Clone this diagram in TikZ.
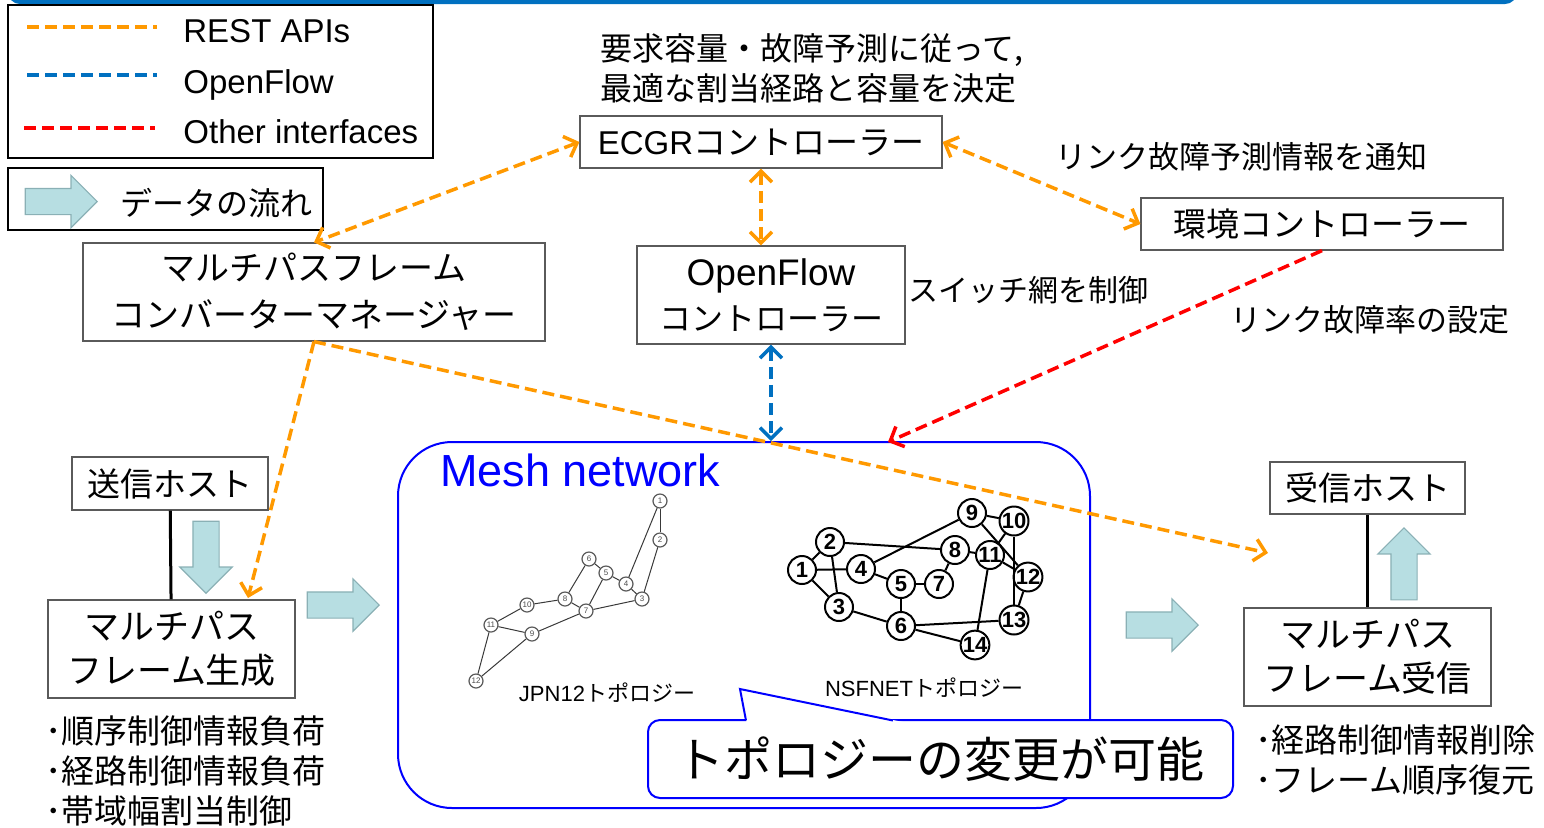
\documentclass[tikz,border=0pt]{standalone}
\usepackage{fontspec}
\setmainfont{Liberation Sans}
\newfontfamily\jp{Noto Sans CJK JP}
\usepackage{tikz}
\usetikzlibrary{arrows.meta}
\usetikzlibrary{shapes.arrows}
\definecolor{restorange}{RGB}{255,153,0}
\definecolor{ofblue}{RGB}{0,112,192}
\definecolor{otherred}{RGB}{255,0,0}
\definecolor{meshblue}{RGB}{0,0,255}
\definecolor{flowfill}{RGB}{183,222,226}
\definecolor{flowline}{RGB}{138,176,181}
\definecolor{boxgray}{RGB}{90,90,90}
\tikzset{box/.style={draw=boxgray, line width=0.6pt, align=center, inner sep=0pt}}
\tikzset{jb/.style={font=\jp\fontsize{17}{23.5}\selectfont}}
\tikzset{jg/.style={font=\jp\fontsize{17.5}{22}\selectfont}}
\tikzset{jh/.style={font=\jp\fontsize{16.5}{20}\selectfont}}
\tikzset{jm/.style={font=\jp\fontsize{15.5}{20}\selectfont}}
\tikzset{lt/.style={font=\fontsize{16.5}{20}\selectfont}}
\tikzset{rest/.style={draw=restorange, line width=1.75pt, dash pattern=on 6pt off 3pt}}
\tikzset{ofl/.style={draw=ofblue, line width=1.75pt, dash pattern=on 6pt off 3pt}}
\tikzset{oth/.style={draw=otherred, line width=1.75pt, dash pattern=on 6pt off 3pt}}
\tikzset{flow/.style={shape=single arrow, fill=flowfill, draw=flowline, line width=0.6pt, inner sep=6.25pt, single arrow head extend=6.5pt, minimum height=36pt}}
\tikzset{jn/.style={circle, draw=gray!70!black, line width=0.6pt, fill=white, inner sep=0pt, minimum size=7pt, text=gray!60!black, font=\fontsize{4}{4}\selectfont}}
\tikzset{nn/.style={circle, draw, line width=1pt, fill=white, inner sep=0pt, minimum size=14pt, font=\bfseries\fontsize{11}{11}\selectfont}}

\begin{document}
\begin{tikzpicture}[x=0.5pt, y=-0.5pt, >={Straight Barb[length=5.5pt,width=11pt]}]
  \useasboundingbox (0,0) rectangle (1544,827);
  \clip (0,0) rectangle (1544,827);
  \fill[ofblue, rounded corners=6pt] (8,-30) rectangle (1517,4);

  \node[draw, line width=1pt, minimum width=212.5pt, minimum height=76.5pt] (key) at (220.5,81.5) {};
  \draw[rest] (27,27) -- (157,27);
  \draw[ofl] (27,75) -- (157,75);
  \draw[oth] (24,128) -- (155,128);
  \node[lt, anchor=base west, inner sep=0pt] (krest) at (183,42) {REST APIs};
  \node[lt, anchor=base west, inner sep=0pt] (kof) at (183,93) {OpenFlow};
  \node[lt, anchor=base west, inner sep=0pt] (koth) at (183,143) {Other interfaces};
  \node[draw, line width=1pt, minimum width=157.5pt, minimum height=31pt] (flowkey) at (165.5,199) {};
  \node[flow, anchor=tip] (kflow) at (98,201.5) {};
  \node[font=\jp\fontsize{16}{20}\selectfont] (kflowtxt) at (216,203) {データの流れ};

  \node[box, lt, minimum width=181pt, minimum height=26pt] (ecgr) at (761,142) {ECGR{\jp コントローラー}};
  \node[font=\jp\fontsize{16}{20}\selectfont, anchor=west, align=left, inner sep=0pt] (ecgrnote) at (600,68)
    {要求容量・故障予測に従って,\\最適な割当経路と容量を決定};
  \node[box, minimum width=134pt, minimum height=49pt, font=\fontsize{18.5}{22.5}\selectfont] (ofc) at (771,295)
    {OpenFlow\\{\jp\fontsize{16}{22.5}\selectfont コントローラー}};
  \node[font=\jp\fontsize{15}{20}\selectfont, anchor=west, inner sep=0pt] (ofcnote) at (908,290) {スイッチ網を制御};
  \node[box, jh, minimum width=181pt, minimum height=26pt] (env) at (1322,224) {環境コントローラー};
  \node[jm, anchor=west, inner sep=0pt] (envnote) at (1055,157) {リンク故障予測情報を通知};
  \node[jm, anchor=west, inner sep=0pt] (ratenote) at (1230,320) {リンク故障率の設定};
  \node[box, jb, minimum width=231pt, minimum height=49pt] (mgr) at (314,292) {マルチパスフレーム\\コンバーターマネージャー};

  \node[box, jh, minimum width=98pt, minimum height=26.5pt] (snd) at (170,483.5) {送信ホスト};
  \node[box, jg, minimum width=123.5pt, minimum height=49pt] (gen) at (171.5,649) {マルチパス\\フレーム生成};
  \draw[line width=1.5pt] (snd) -- (gen);
  \node[jh, anchor=west, align=left, inner sep=0pt] (genlist) at (45,771) {･順序制御情報負荷\\･経路制御情報負荷\\･帯域幅割当制御};
  \node[flow, anchor=tip, shape border rotate=270] (sndflow) at (206,594) {};
  \node[flow, anchor=tip] (genflow) at (380,605) {};

  \node[box, jh, minimum width=97.5pt, minimum height=26pt] (rcv) at (1367.5,488) {受信ホスト};
  \node[box, jg, minimum width=123.5pt, minimum height=49pt] (mrx) at (1367.5,657) {マルチパス\\フレーム受信};
  \draw[line width=1.5pt] (rcv) -- (mrx);
  \node[jh, anchor=west, align=left, inner sep=0pt] (mrxlist) at (1255,760) {･経路制御情報削除\\･フレーム順序復元};
  \node[flow, anchor=tip, shape border rotate=90] (mrxflow) at (1404,527) {};
  \node[flow, anchor=tip] (meshflow) at (1199,625) {};

  \node[draw=meshblue, line width=1pt, rounded corners=27pt, minimum width=346pt, minimum height=183pt] (mesh) at (744,625) {};
  \node[font=\fontsize{22.5}{26}\selectfont, text=meshblue, anchor=base west, inner sep=0pt] (meshtitle) at (440,486) {Mesh network};

  \begin{scope}[every edge/.style={draw, gray!45!black, line width=0.5pt}]
    \node[jn] (j1) at (660,501) {1};
    \node[jn] (j2) at (660,540) {2} edge (j1);
    \node[jn] (j3) at (642,599) {3} edge (j2);
    \node[jn] (j4) at (626,584) {4} edge (j1) edge (j3);
    \node[jn] (j5) at (606,573) {5} edge (j4);
    \node[jn] (j6) at (589,559) {6} edge (j5);
    \node[jn] (j7) at (586,611) {7} edge (j5) edge (j3);
    \node[jn] (j8) at (565,599) {8} edge (j6) edge (j7);
    \node[jn] (j10) at (527,605) {10} edge (j8);
    \node[jn] (j9) at (532,634) {9} edge (j7);
    \node[jn] (j11) at (491,625) {11} edge (j10) edge (j9);
    \node[jn] (j12) at (476,681) {12} edge (j11) edge (j9);
  \end{scope}
  \node[font=\fontsize{11}{12}\selectfont] (jpnlabel) at (607,693) {JPN12{\jp トポロジー}};

  \begin{scope}[every edge/.style={draw, line width=1pt}]
    \node[nn] (n1) at (802,570) {1};
    \node[nn] (n2) at (830,542) {2} edge (n1);
    \node[nn] (n3) at (839,607) {3} edge (n1) edge (n2);
    \node[nn] (n4) at (861,569) {4} edge (n1);
    \node[nn] (n5) at (901,584) {5} edge (n4);
    \node[nn] (n6) at (901,626) {6} edge (n5) edge (n3);
    \node[nn] (n7) at (939,584) {7} edge (n5);
    \node[nn] (n8) at (955,550) {8} edge (n7) edge (n2);
    \node[nn] (n9) at (972,513) {9} edge (n4);
    \node[nn] (n10) at (1014,521) {10} edge (n9);
    \node[nn] (n11) at (990,555) {11} edge (n8) edge (n10);
    \node[nn] (n12) at (1028,577) {12} edge (n9) edge (n11);
    \node[nn] (n13) at (1014,620) {13} edge (n6) edge (n10) edge (n12);
    \node[nn] (n14) at (975,645) {14} edge (n6) edge (n11);
  \end{scope}
  \node[font=\fontsize{11}{12}\selectfont] (nsflabel) at (924,688) {NSFNET{\jp トポロジー}};

  \node[draw=meshblue, line width=1pt, fill=white, rounded corners=6pt, minimum width=292.5pt, minimum height=39pt,
    font=\jp\fontsize{24}{28}\selectfont] (topo) at (940.5,759) {トポロジーの変更が可能};
  \fill[white] (746.8,724) -- (740,689) -- (912.7,724) -- cycle;
  \draw[meshblue, line width=1pt] (746,720.5) -- (740,689) -- (893,720.5);

  \draw[rest, <->] (ecgr.west) -- (mgr.north);
  \draw[rest, <->] (ecgr.south) -- (ecgr.south |- ofc.north);
  \draw[rest, <->] (ecgr.east) -- (env.west);
  \draw[ofl, <->] (ofc.south) -- (ofc.south |- mesh.north);
  \coordinate (meshin) at (888,442);
  \draw[oth, ->] (env.south) -- (meshin);
  \coordinate (genin) at (248,598);
  \draw[rest, ->] (mgr.south) -- (genin);
  \coordinate (mrxin) at (1268,553);
  \draw[rest, ->] (mgr.south) -- (mrxin);
\end{tikzpicture}
\end{document}
